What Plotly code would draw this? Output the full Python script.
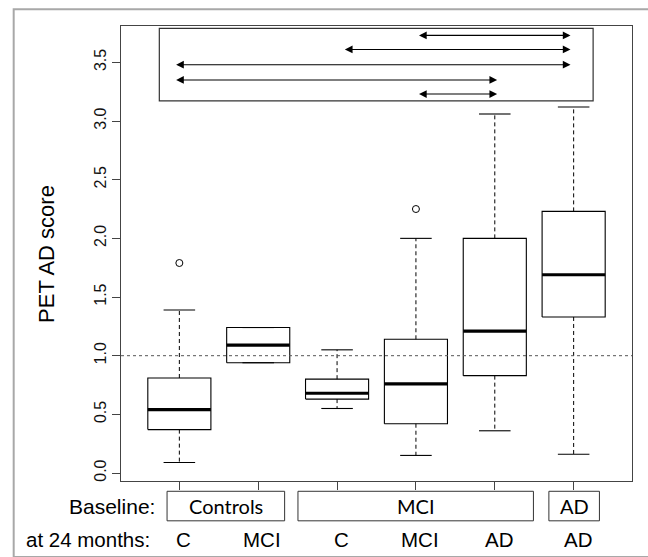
import plotly.graph_objects as go

# ---------------- data ----------------
positions = [1, 2, 3, 4, 5, 6]
month_labels = ["C", "MCI", "C", "MCI", "AD", "AD"]
q1 = [0.37, 0.94, 0.63, 0.42, 0.83, 1.33]
median = [0.54, 1.09, 0.68, 0.76, 1.21, 1.69]
q3 = [0.81, 1.24, 0.80, 1.14, 2.00, 2.23]
whisker_low = [0.09, 0.94, 0.55, 0.15, 0.36, 0.16]
whisker_high = [1.39, 1.24, 1.05, 2.00, 3.06, 3.12]
outlier_x = [1, 4]
outlier_y = [1.79, 2.25]
baseline_groups = ["Controls", "MCI", "AD"]
reference_level = 1.0
y_ticks = [0.0, 0.5, 1.0, 1.5, 2.0, 2.5, 3.0, 3.5]
# pairwise comparison arrows (from, to, level)
cmp_start = [4.02, 3.08, 0.94, 0.94, 4.02]
cmp_end = [5.96, 5.96, 5.96, 5.03, 5.03]
cmp_level = [3.73, 3.61, 3.48, 3.35, 3.23]

# ---------------- layout constants ----------------
X0, X1 = 0.26, 6.74
Y0, Y1 = -0.068, 3.81
HALF = 0.4
CAP = 0.2
FONT = "Liberation Sans, Arial, sans-serif"
BOXFONT = "Lato, Carlito, sans-serif"


def xp(v):
    return (v - X0) / (X1 - X0)


fig = go.Figure()

# boxes
bx, by = [], []
for p, a, b in zip(positions, q1, q3):
    bx += [p - HALF, p + HALF, p + HALF, p - HALF, p - HALF, None]
    by += [a, a, b, b, a, None]
fig.add_trace(go.Scatter(x=bx, y=by, mode="lines", line=dict(color="black", width=1.1),
                         hoverinfo="skip", showlegend=False))

# whiskers (dashed)
wx, wy = [], []
for p, lo, a, b, hi in zip(positions, whisker_low, q1, q3, whisker_high):
    wx += [p, p, None, p, p, None]
    wy += [b, hi, None, a, lo, None]
fig.add_trace(go.Scatter(x=wx, y=wy, mode="lines",
                         line=dict(color="black", width=1, dash="4px,3px"),
                         hoverinfo="skip", showlegend=False))

# caps
cx, cy = [], []
for p, lo, hi in zip(positions, whisker_low, whisker_high):
    cx += [p - CAP, p + CAP, None, p - CAP, p + CAP, None]
    cy += [hi, hi, None, lo, lo, None]
fig.add_trace(go.Scatter(x=cx, y=cy, mode="lines", line=dict(color="black", width=1.1),
                         hoverinfo="skip", showlegend=False))

# medians
mx, my = [], []
for p, m in zip(positions, median):
    mx += [p - HALF, p + HALF, None]
    my += [m, m, None]
fig.add_trace(go.Scatter(x=mx, y=my, mode="lines", line=dict(color="black", width=3.2),
                         hoverinfo="skip", showlegend=False))

# outliers
fig.add_trace(go.Scatter(x=outlier_x, y=outlier_y, mode="markers",
                         marker=dict(symbol="circle-open", size=7, color="black",
                                     line=dict(width=1)),
                         hoverinfo="skip", showlegend=False))

shapes = []
annotations = []

# reference dotted line
shapes.append(dict(type="line", xref="paper", yref="y", x0=0, x1=1,
                   y0=reference_level, y1=reference_level,
                   line=dict(color="#555555", width=1, dash="dot")))

# comparison box
shapes.append(dict(type="rect", xref="x", yref="y", x0=0.746, x1=6.247, y0=3.171, y1=3.789,
                   line=dict(color="#333333", width=1.2)))

for s, e, l in zip(cmp_start, cmp_end, cmp_level):
    annotations.append(dict(x=e, y=l, ax=s, ay=l, xref="x", yref="y", axref="x", ayref="y",
                            text="", showarrow=True, arrowside="end+start",
                            arrowhead=2, startarrowhead=2, arrowsize=1.4, startarrowsize=1.4,
                            arrowwidth=1.1, arrowcolor="black", standoff=0, startstandoff=0))

# baseline group boxes below the plot
group_spans = [(0.844, 2.335), (2.504, 5.49), (5.686, 6.327)]
gy0, gy1 = -0.0875, -0.0226
for name, (a, b) in zip(baseline_groups, group_spans):
    shapes.append(dict(type="rect", xref="paper", yref="paper", x0=xp(a), x1=xp(b),
                       y0=gy0, y1=gy1, line=dict(color="#333333", width=1)))
    annotations.append(dict(x=xp((a + b) / 2), y=(gy0 + gy1) / 2, xref="paper", yref="paper",
                            text=name, showarrow=False, xanchor="center", yanchor="middle",
                            font=dict(family=BOXFONT, size=20, color="black")))

annotations.append(dict(x=xp(0.717), y=(gy0 + gy1) / 2, xref="paper", yref="paper",
                        text="Baseline:", showarrow=False, xanchor="right", yanchor="middle",
                        font=dict(family=FONT, size=21, color="black")))
annotations.append(dict(x=xp(0.658), y=-0.128, xref="paper", yref="paper",
                        text="at 24 months:", showarrow=False, xanchor="right", yanchor="middle",
                        font=dict(family=FONT, size=20.5, color="black")))
for p, lab in zip(positions, month_labels):
    annotations.append(dict(x=xp(p + 0.05), y=-0.128, xref="paper", yref="paper",
                            text=lab, showarrow=False, xanchor="center", yanchor="middle",
                            font=dict(family=FONT, size=20.5, color="black")))

# y-axis title
annotations.append(dict(x=-0.146, y=0.5, xref="paper", yref="paper", text="PET AD score",
                        showarrow=False, textangle=-90, xanchor="center", yanchor="middle",
                        font=dict(family=FONT, size=22, color="black")))

# outer frame
shapes.append(dict(type="rect", xref="paper", yref="paper", x0=-0.21, x1=1.2,
                   y0=-0.167, y1=1.0367, line=dict(color="#a8a8a8", width=2)))

fig.update_layout(
    width=648, height=557,
    margin=dict(l=121, r=16, t=26, b=76),
    paper_bgcolor="white", plot_bgcolor="white",
    shapes=shapes, annotations=annotations,
    showlegend=False,
    xaxis=dict(range=[X0, X1], tickvals=positions, ticktext=[""] * 6, showticklabels=False,
               ticks="outside", ticklen=8, tickcolor="#444444", showgrid=False, zeroline=False,
               showline=True, linecolor="#444444", linewidth=1.2, mirror=True,
               automargin=False),
    yaxis=dict(range=[Y0, Y1], tickvals=y_ticks, ticktext=[f"{v:.1f}" for v in y_ticks],
               tickangle=-90, ticks="outside", ticklen=8, tickcolor="#444444",
               tickfont=dict(family=FONT, size=16, color="#111111"),
               showgrid=False, zeroline=False, automargin=False,
               showline=True, linecolor="#444444", linewidth=1.2, mirror=True),
)

fig.write_html("out.html",
               config={"displayModeBar": False},
               post_script="document.body.style.margin='0px';"
                           "document.body.style.overflow='hidden';")
